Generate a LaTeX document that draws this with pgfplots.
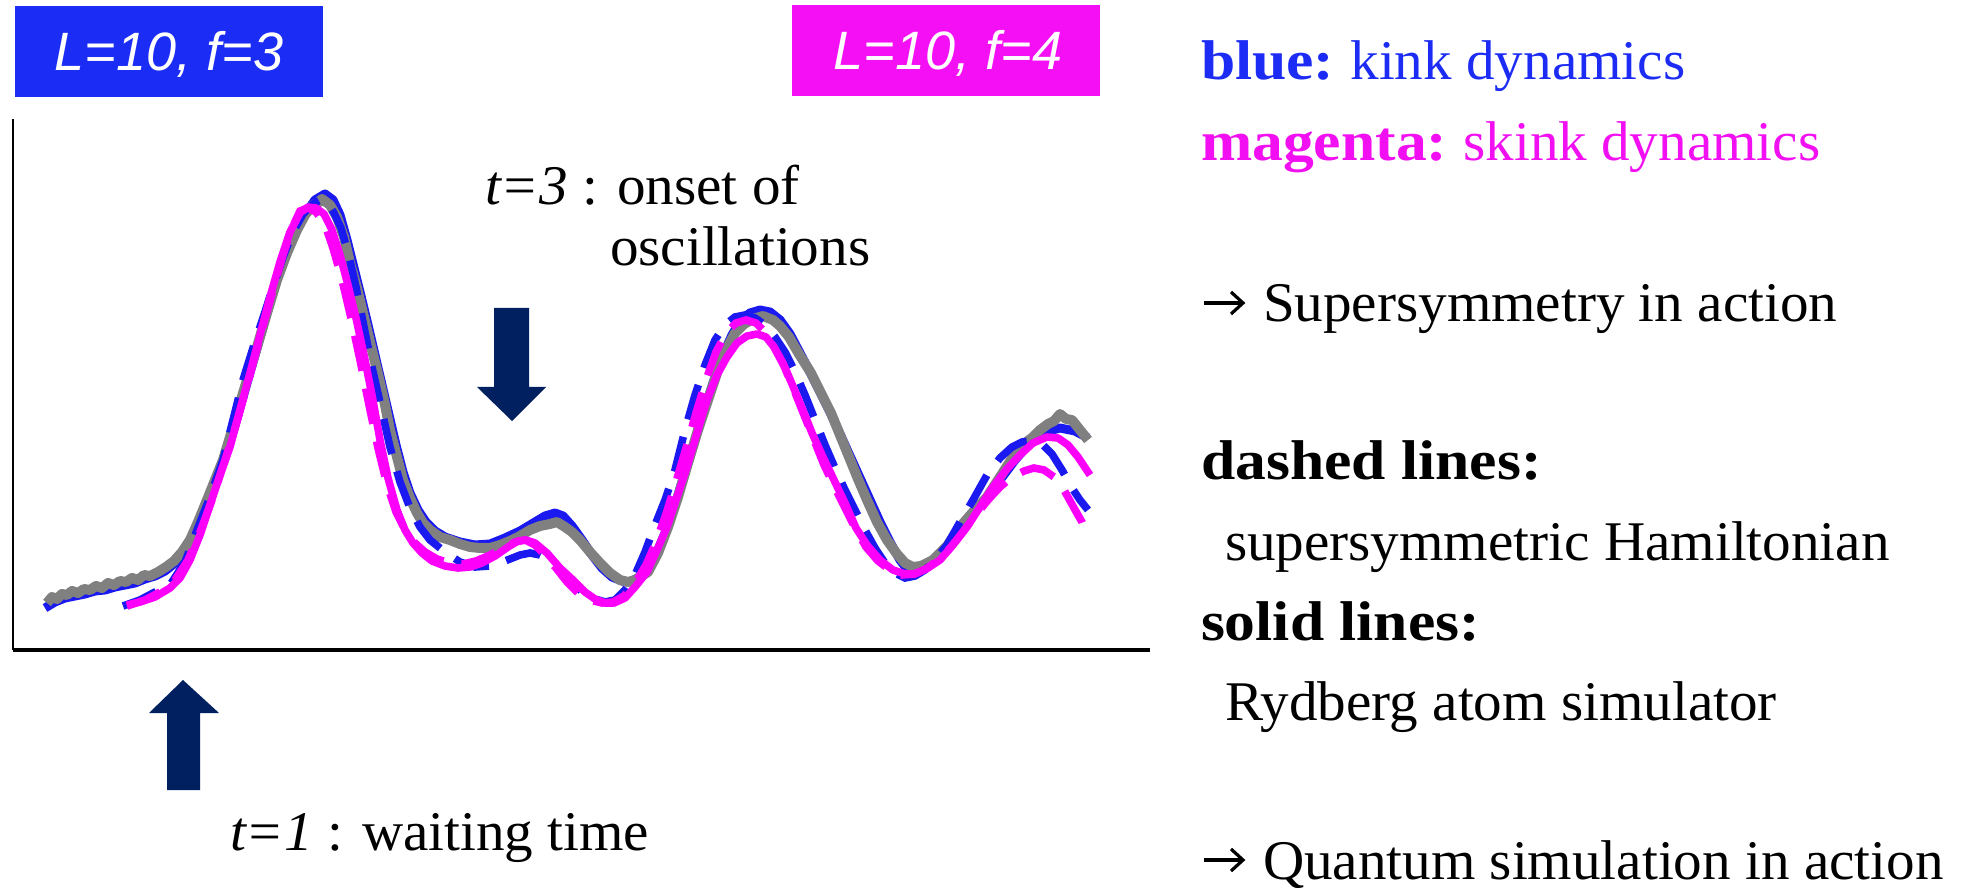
\documentclass[border=0pt]{standalone}
\usepackage{fontspec}
\usepackage{pgfplots}
\pgfplotsset{compat=1.18}
\setmainfont{Liberation Serif}[FakeStretch=1.02]
\newfontfamily\bserif[FakeStretch=1.1]{Liberation Serif Bold}
\newfontfamily\sansit{Liberation Sans Italic}
\definecolor{tblue}{RGB}{28,44,245}
\definecolor{tmag}{RGB}{242,16,242}
\definecolor{bblue}{RGB}{27,45,245}
\definecolor{bmag}{RGB}{245,15,245}
\definecolor{lblue}{RGB}{25,25,240}
\definecolor{lmag}{RGB}{252,0,250}
\definecolor{lgray}{RGB}{128,128,128}
\definecolor{navy}{RGB}{0,32,96}

\pgfplotstableread{
x y
47 285
52 291
57 289
62 294
67 293
72 297
78 295
84 299
90 298
96 302
102 300
108 305
114 303
120 307
126 306
132 310
138 308
144 313
150 312
158 316
166 321
174 327
182 336
190 348
198 366
207 388
215 408
223 428
230 451
237 475
247 508
257 541
267 575
277 608
287 635
297 658
305 673
313 683
318 685
322 689
330 683
337 671
344 651
350 625
357 600
363 575
370 546
377 518
384 488
390 458
397 431
403 408
410 390
417 375
423 365
430 358
440 351
450 348
460 344
470 341
480 340
490 340
500 343
510 347
520 352
530 358
540 362
550 364
557 366
565 361
572 356
580 348
590 336
600 325
610 315
620 308
628 306
635 308
648 316
658 335
668 361
678 391
688 425
698 458
708 488
717 515
726 538
735 555
744 564
753 569
763 572
773 568
780 562
789 551
799 534
811 515
821 495
831 475
840 453
849 431
858 409
867 388
877 366
887 348
897 334
905 325
913 321
921 322
933 328
947 342
960 361
973 376
987 391
1000 411
1013 431
1025 445
1033 451
1040 458
1048 464
1054 467
1060 474
1066 469
1072 468
1080 458
1088 448
}\graydata

\pgfplotstableread{
x y
45 280
55 286
65 290
75 292
85 294
95 297
105 298
115 301
125 303
135 305
145 309
155 312
165 317
175 325
185 338
195 358
205 383
215 406
225 430
235 463
245 498
255 533
265 568
275 603
285 633
295 656
305 674
315 688
325 694
333 688
340 673
347 648
354 620
361 592
368 563
375 533
382 503
389 473
396 443
403 416
410 395
418 378
426 366
435 357
445 351
460 346
475 343
490 344
505 350
520 357
535 366
545 372
555 375
563 372
572 362
582 348
592 333
602 320
612 311
622 307
630 306
645 314
655 331
665 355
675 383
685 416
695 448
705 480
714 508
723 533
732 553
740 567
750 575
760 578
770 576
780 568
790 554
800 535
810 516
820 496
830 476
840 454
850 432
860 410
870 388
880 366
890 346
900 328
908 318
916 316
926 320
940 333
955 351
970 370
985 388
1000 408
1015 428
1030 445
1045 456
1060 460
1075 457
1088 450
}\bluenoisy

\pgfplotstableread{
x y
123 282
140 288
155 296
170 303
185 326
197 358
210 391
223 428
233 468
243 508
253 540
263 570
273 601
283 631
293 656
303 674
313 684
320 688
327 686
334 675
341 660
348 636
356 601
364 561
372 521
381 481
390 441
400 406
410 380
420 361
430 348
445 336
460 326
475 321
490 322
505 327
520 333
530 335
540 333
550 328
560 318
570 308
580 298
592 290
605 286
615 288
625 298
635 313
645 336
655 363
665 388
675 418
685 458
695 493
705 523
715 548
725 563
735 571
745 573
755 570
765 563
775 551
785 536
795 516
805 493
815 468
825 443
835 420
845 398
855 378
865 358
875 340
885 325
895 315
905 310
915 312
925 318
935 328
947 343
960 366
973 388
987 413
1000 430
1012 441
1022 446
1032 447
1042 444
1052 434
1062 418
1072 400
1080 388
1088 378
}\bluedash

\pgfplotstableread{
x y
127 283
140 286
155 291
170 300
180 310
190 328
200 353
210 383
220 413
230 441
240 478
250 515
260 553
270 591
280 626
290 656
300 675
308 681
316 680
324 674
332 658
340 633
348 603
356 570
364 533
372 493
380 448
388 410
397 378
405 358
413 345
422 335
432 327
445 322
458 320
470 321
482 325
495 332
508 341
518 347
526 348
535 345
547 335
560 320
573 308
585 296
595 289
605 285
614 285
625 290
635 301
647 316
657 338
667 361
677 391
687 421
697 455
707 488
717 513
727 531
737 545
747 552
757 554
766 551
774 541
783 525
792 504
802 480
812 455
823 431
834 408
845 385
856 360
867 343
880 328
893 318
905 314
915 314
928 320
940 328
953 343
967 361
980 381
993 401
1006 418
1020 433
1033 445
1047 451
1058 450
1068 443
1078 431
1090 413
}\magsolid

\pgfplotstableread{
x y
127 282
145 288
160 296
175 308
188 328
200 356
212 388
225 428
238 470
250 513
262 558
273 598
283 633
292 660
300 677
308 680
316 676
325 663
333 640
342 608
351 570
360 528
369 483
378 440
387 403
396 376
405 358
415 345
425 336
437 329
450 325
463 324
476 327
490 333
503 340
515 346
525 348
535 343
545 333
556 320
567 306
578 295
590 288
602 285
613 286
624 292
635 305
646 323
656 346
666 374
676 406
686 440
696 475
706 508
716 536
726 555
736 565
746 568
756 565
765 556
774 541
784 522
794 498
804 473
814 448
824 423
835 400
846 378
856 358
866 341
878 327
890 318
902 313
914 314
926 319
938 328
950 340
962 355
975 372
988 388
1000 401
1012 411
1024 417
1034 420
1044 418
1054 411
1064 398
1074 380
1082 366
1088 351
}\magdash

\begin{document}
\begin{tikzpicture}[
  txt/.style={anchor=base west, inner sep=0pt, outer sep=0pt, font=\fontsize{28}{34}\selectfont},
  btxt/.style={anchor=base west, inner sep=0pt, outer sep=0pt, font=\fontsize{28}{34}\selectfont\bserif},
]
\begin{axis}[
  x=0.5pt, y=0.5pt,
  xmin=13, xmax=1150, ymin=238, ymax=769,
  axis lines=left,
  axis line style={-},
  x axis line style={line width=2pt},
  y axis line style={line width=1.4pt},
  xtick=\empty, ytick=\empty,
  clip=false,
  scale only axis,
]
\addplot[lblue, line width=4.5pt, line join=round] table {\bluenoisy};
\addplot[lgray, line width=5pt, line join=round] table {\graydata};
\addplot[lblue, line width=3.8pt, dash pattern=on 18pt off 9pt] table {\bluedash};
\addplot[lmag, line width=3.8pt, dash pattern=on 18pt off 9pt] table {\magdash};
\addplot[lmag, line width=3.8pt, line join=round] table {\magsolid};

% coloured boxes
\fill[bblue] (axis cs:15,791) rectangle (axis cs:323,882);
\node[anchor=base, inner sep=0pt, text=white, font=\fontsize{27}{32}\selectfont\sansit] at (axis cs:169,817) {L=10, f=3};
\fill[bmag] (axis cs:792,792) rectangle (axis cs:1100,883);
\node[anchor=base, inner sep=0pt, text=white, font=\fontsize{27}{32}\selectfont\sansit] at (axis cs:948,818) {L=10, f=4};

% arrows
\fill[navy] (axis cs:494,580) -- (axis cs:529,580) -- (axis cs:529,501) -- (axis cs:546,501)
  -- (axis cs:512,467) -- (axis cs:477,501) -- (axis cs:494,501) -- cycle;
\fill[navy] (axis cs:167,98) -- (axis cs:200,98) -- (axis cs:200,175) -- (axis cs:219,175)
  -- (axis cs:183,208) -- (axis cs:149,175) -- (axis cs:167,175) -- cycle;

% annotations
\node[txt] at (axis cs:485,683) {\textit{t=3} : onset of};
\node[txt] at (axis cs:610,622) {oscillations};
\node[txt] at (axis cs:230,38) {\textit{t=1} : waiting time};

% right-hand text
\node[txt, text=tblue] at (axis cs:1201,808) {{\bserif blue:}\hspace{-1.5pt} kink dynamics};
\node[txt, text=tmag] at (axis cs:1201,727) {{\bserif magenta:}\hspace{-1.5pt} skink dynamics};
\draw[line width=1.6pt, line join=miter] (axis cs:1204,585) -- (axis cs:1242,585);
\draw[line width=1.6pt, line join=miter] (axis cs:1231,596) -- (axis cs:1243,585) -- (axis cs:1231,574);
\node[txt] at (axis cs:1263,566) {Supersymmetry in action};
\node[btxt] at (axis cs:1201,408) {dashed lines:};
\node[txt] at (axis cs:1225,327) {supersymmetric Hamiltonian};
\node[btxt] at (axis cs:1201,248) {solid lines:};
\node[txt] at (axis cs:1225,168) {Rydberg atom simulator};
\draw[line width=1.6pt, line join=miter] (axis cs:1204,28) -- (axis cs:1242,28);
\draw[line width=1.6pt, line join=miter] (axis cs:1231,39) -- (axis cs:1243,28) -- (axis cs:1231,17);
\node[txt] at (axis cs:1263,9) {Quantum simulation in action};

\coordinate (BL) at (axis cs:0,0);
\coordinate (TR) at (axis cs:1970,888);
\end{axis}
\pgfresetboundingbox
\path[use as bounding box] (BL) rectangle (TR);
\end{tikzpicture}
\end{document}
